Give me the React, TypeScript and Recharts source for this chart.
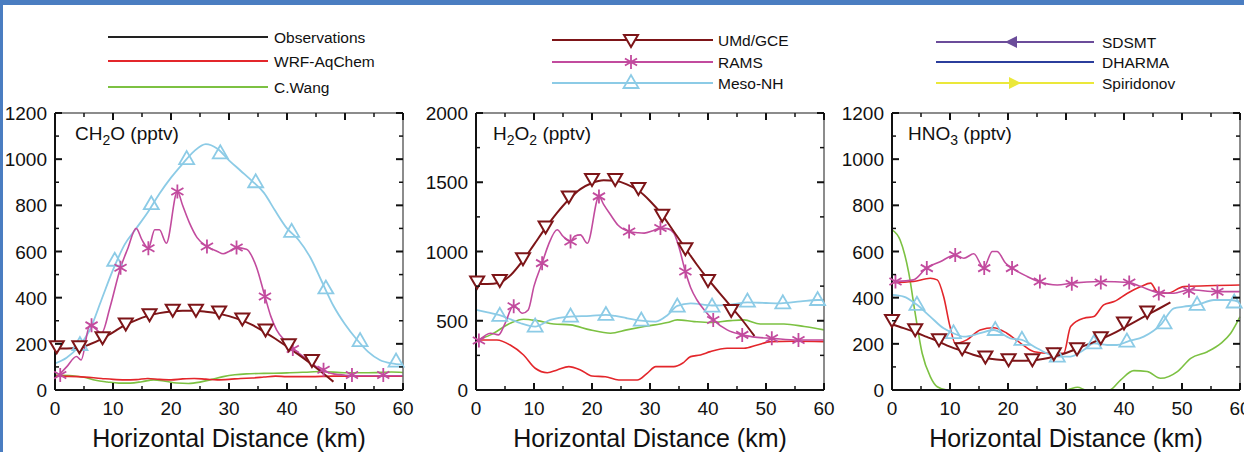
import React from 'react';
import { ComposedChart, Line, XAxis, YAxis } from 'recharts';

// ---- data: [km, pptv] ----
const xTicks = [0, 5, 10, 15, 20, 25, 30, 35, 40, 45, 50, 55, 60];
const yTicks1200 = [0, 100, 200, 300, 400, 500, 600, 700, 800, 900, 1000, 1100, 1200];
const yTicks2000 = [0, 250, 500, 750, 1000, 1250, 1500, 1750, 2000];

// CH2O
const ch2oWrf = [[0, 60], [4, 58], [8, 50], [10, 46], [12, 44], [14, 45], [16, 50], [18, 46], [20, 44], [22, 48], [24, 50], [26, 47], [28, 44], [30, 46], [32, 50], [34, 52], [36, 56], [38, 60], [40, 58], [44, 58], [48, 60], [52, 60], [56, 60], [60, 60]];
const ch2oWang = [[0, 65], [3, 62], [5, 55], [7, 42], [9, 35], [11, 30], [13, 30], [15, 36], [17, 44], [19, 38], [21, 30], [23, 28], [25, 34], [27, 46], [29, 58], [31, 66], [33, 70], [36, 72], [40, 74], [44, 78], [46, 80], [50, 75], [54, 75], [58, 78], [60, 76]];
const ch2oMeso = [[0, 115], [2, 140], [4, 185], [6, 260], [8, 390], [10, 520], [12, 630], [14, 700], [16, 770], [18, 850], [20, 920], [22, 980], [24, 1035], [26, 1065], [28, 1045], [30, 995], [32, 950], [34, 905], [36, 855], [38, 775], [40, 700], [42, 650], [44, 575], [46, 470], [48, 365], [50, 285], [52, 220], [54, 165], [56, 130], [58, 115], [60, 110]];
const ch2oMesoPts = [[4.3, 195], [10.3, 560], [16.6, 805], [22.7, 1000], [28.5, 1025], [34.6, 900], [40.8, 685], [46.7, 440], [52.6, 212], [58.8, 123]];
const ch2oRams = [[0.5, 60], [2, 100], [3.7, 145], [4.5, 130], [6, 280], [7, 265], [8, 245], [9.5, 360], [11.3, 530], [12.5, 610], [14, 700], [15, 650], [16.1, 614], [17.2, 694], [18, 694], [19.2, 636], [21.1, 860], [22, 800], [23.2, 723], [24.5, 660], [26.2, 622], [28, 600], [29, 590], [30, 600], [31.3, 617], [33, 610], [34.7, 535], [36.2, 405], [37.2, 320], [38.2, 260], [40, 205], [41, 180], [43.3, 137], [46, 85], [48, 70], [50, 64], [52, 62], [56, 62], [60, 62]];
const ch2oRamsPts = [[0.9, 65], [6.3, 280], [11.3, 530], [16.1, 614], [21.1, 860], [26.2, 622], [31.3, 617], [36.2, 405], [41, 178], [46.3, 88], [51.2, 65], [56.6, 65]];
const ch2oUmd = [[0, 180], [2, 180], [4, 182], [6, 198], [8, 220], [10, 250], [12, 280], [14, 303], [16, 321], [18, 333], [20, 340], [22, 343], [24, 343], [26, 339], [28, 332], [30, 320], [32, 304], [34, 282], [36, 253], [38, 222], [40, 188], [42, 153], [44, 116], [46, 77], [48, 36]];
const ch2oUmdPts = [[0.3, 190], [4.2, 190], [8.2, 228], [12.2, 288], [16.3, 328], [20.3, 348], [24.3, 348], [28.3, 340], [32.3, 310], [36.3, 262], [40.3, 198], [44.3, 130]];

// H2O2
const h2o2Wrf = [[0, 361], [3.6, 361], [5.9, 325], [8.2, 253], [10.2, 157], [12.3, 125], [14, 145], [16, 169], [18, 145], [20, 101], [22.3, 96], [24.6, 72], [27.8, 72], [29.5, 120], [31, 169], [34.1, 169], [35.6, 193], [37, 241], [38.7, 253], [40.4, 277], [43.3, 301], [46.2, 301], [48.5, 325], [50.8, 349], [54.8, 352], [60, 349]];
const h2o2Wang = [[0, 361], [2.5, 398], [5.9, 482], [8.2, 511], [10.5, 501], [13.4, 477], [16.3, 470], [19.7, 434], [23.2, 410], [26, 434], [29, 458], [33, 487], [34.7, 506], [37.6, 494], [40.4, 487], [43.9, 501], [46.2, 506], [49, 477], [53.1, 477], [56.6, 458], [60, 434]];
const h2o2Meso = [[0, 578], [2, 560], [3.9, 542], [6, 510], [7.7, 482], [10.2, 458], [12.8, 506], [16.3, 530], [19.7, 535], [22.4, 542], [24, 535], [26, 518], [28.5, 501], [31, 494], [33, 540], [34.7, 607], [37, 626], [40.7, 610], [43.6, 614], [46.8, 632], [50, 628], [52.5, 626], [56, 640], [58.9, 650], [60, 650]];
const h2o2MesoPts = [[4.1, 535], [10.2, 458], [16.3, 530], [22.4, 542], [28.5, 501], [34.7, 602], [40.7, 602], [46.8, 638], [52.9, 626], [58.9, 650]];
const h2o2Rams = [[0.5, 357], [2.5, 410], [3.9, 398], [5, 480], [6.5, 610], [8, 554], [9, 578], [10, 750], [11.4, 916], [12.5, 1050], [14, 1157], [15, 1110], [16.3, 1072], [17, 1110], [18, 1120], [19.2, 1060], [21.2, 1398], [22, 1340], [23.2, 1265], [24.5, 1190], [26.4, 1145], [28, 1135], [29, 1133], [30.5, 1150], [31.8, 1169], [33, 1165], [34.1, 1133], [35, 1030], [36.1, 855], [37, 740], [38.1, 650], [39.5, 570], [40.9, 506], [43.3, 434], [45.9, 398], [48.5, 380], [51, 373], [55.4, 361], [60, 361]];
const h2o2RamsPts = [[0.5, 357], [6.5, 605], [11.4, 916], [16.3, 1072], [21.2, 1398], [26.4, 1145], [31.8, 1169], [36.1, 855], [40.9, 506], [45.9, 398], [51, 373], [55.6, 361]];
const h2o2Umd = [[0, 765], [2, 765], [4, 775], [6, 830], [8, 930], [10, 1050], [12, 1170], [14, 1280], [16, 1375], [18, 1450], [20, 1495], [22, 1515], [24, 1510], [26, 1485], [28, 1440], [30, 1365], [32, 1270], [34, 1150], [36, 1030], [38, 910], [40, 800], [42, 700], [44, 600], [46, 500], [48, 390]];
const h2o2UmdPts = [[0.2, 783], [4.1, 795], [8.1, 952], [12, 1180], [16, 1398], [20, 1523], [24, 1523], [28, 1458], [32.1, 1265], [36.1, 1024], [40, 795], [44, 578]];

// HNO3
const hno3Wrf = [[0, 465], [3.7, 470], [6.6, 484], [7.8, 477], [8.9, 405], [10, 275], [10.9, 202], [12.9, 217], [15.2, 260], [17.5, 270], [19.8, 246], [22.2, 202], [24.5, 166], [27.3, 159], [29.6, 159], [30.8, 275], [33.1, 311], [34.8, 318], [36.5, 369], [38.3, 383], [40.6, 419], [42.9, 448], [44.6, 463], [45.7, 426], [47.5, 419], [50.3, 448], [60, 455]];
const hno3Wang = [[0, 694], [1.4, 650], [2.9, 506], [4, 332], [5.2, 159], [6.6, 58], [7.8, 14], [9.5, 0], [20, 0], [30, 0], [32, 12], [33.5, 0], [37.5, 0], [39.4, 43], [41.7, 84], [44, 80], [46.3, 51], [49.2, 80], [51.5, 137], [54.4, 166], [56.7, 202], [58.4, 246], [60, 318]];
const hno3Meso = [[0, 412], [2, 405], [4.3, 369], [6.6, 318], [8.9, 267], [10.6, 246], [12.4, 231], [15.2, 246], [17.5, 260], [20.4, 224], [22.4, 217], [25, 181], [28.5, 145], [30.8, 145], [33.1, 174], [34.8, 202], [37.1, 195], [38.8, 195], [40.6, 210], [43.4, 231], [46.3, 282], [48.6, 354], [50.3, 361], [52.6, 369], [55.5, 390], [58.4, 390], [60, 380]];
const hno3MesoPts = [[4.3, 369], [10.6, 246], [17.8, 260], [22.4, 217], [28.5, 145], [34.8, 202], [40.5, 210], [46.9, 289], [52.6, 369], [59, 379]];
const hno3Rams = [[0.6, 470], [3.7, 477], [6, 530], [8.3, 556], [10.9, 585], [12.4, 571], [14.1, 590], [15.8, 530], [17.3, 600], [18.1, 600], [19.6, 549], [20.7, 528], [23.3, 492], [25.3, 470], [28.5, 455], [31, 463], [36, 470], [40.9, 466], [42.9, 448], [46, 422], [48.6, 419], [51.2, 434], [56.1, 426], [60, 426]];
const hno3RamsPts = [[0.6, 470], [6, 528], [10.9, 585], [15.9, 528], [20.7, 528], [25.5, 470], [31, 460], [36, 466], [40.9, 466], [46, 418], [51.2, 430], [56.1, 426]];
const hno3Umd = [[0, 285], [2, 268], [4, 250], [6, 230], [8, 210], [10, 188], [12, 170], [14, 153], [16, 140], [18, 132], [20, 128], [22, 127], [24, 128], [26, 134], [28, 145], [30, 160], [32, 180], [34, 200], [36, 220], [38, 243], [40, 270], [42, 297], [44, 325], [46, 352], [48, 380]];
const hno3UmdPts = [[0, 303], [4, 263], [8.1, 220], [12.1, 181], [16.1, 145], [20.1, 133], [24.2, 133], [27.9, 159], [31.9, 181], [36, 228], [40, 292], [44, 340]];

const C = {
  obs: '#222222',
  wrf: '#e3262b',
  wang: '#7cc142',
  umd: '#7d1518',
  rams: '#c24b9e',
  meso: '#8ccbe6',
  sdsmt: '#6b4c9a',
  dharma: '#2b3d9c',
  spir: '#ebe83a',
};

const legendCol1 = [
  { name: 'Observations', color: C.obs, y: 37 },
  { name: 'WRF-AqChem', color: C.wrf, y: 61 },
  { name: 'C.Wang', color: C.wang, y: 87 },
];
const legendCol2 = [
  { name: 'UMd/GCE', color: C.umd, y: 40, mark: 'down' },
  { name: 'RAMS', color: C.rams, y: 62, mark: 'star' },
  { name: 'Meso-NH', color: C.meso, y: 83, mark: 'up' },
];
const legendCol3 = [
  { name: 'SDSMT', color: C.sdsmt, y: 42, mark: 'left' },
  { name: 'DHARMA', color: C.dharma, y: 62, mark: '' },
  { name: 'Spiridonov', color: C.spir, y: 83, mark: 'right' },
];

const FONT = '"Liberation Sans", Arial, Helvetica, sans-serif';
const pts = (a: number[][]) => a.map(([x, y]) => ({ x, y }));

// ---- marker shapes ----
function Marker({ kind, cx, cy, color }: any) {
  if (cx == null || cy == null) return null;
  if (kind === 'down')
    return <polygon points={`${cx - 7},${cy - 5} ${cx + 7},${cy - 5} ${cx},${cy + 7}`} fill="#fff" stroke={color} strokeWidth={2} />;
  if (kind === 'up')
    return <polygon points={`${cx - 7.5},${cy + 5} ${cx + 7.5},${cy + 5} ${cx},${cy - 8}`} fill="none" stroke={color} strokeWidth={1.8} />;
  if (kind === 'star') {
    const r = 7;
    const d = [90, 30, 150]
      .map((a) => {
        const dx = r * Math.cos((a * Math.PI) / 180);
        const dy = r * Math.sin((a * Math.PI) / 180);
        return `M${cx - dx},${cy - dy}L${cx + dx},${cy + dy}`;
      })
      .join('');
    return <path d={d} stroke={color} strokeWidth={1.8} fill="none" />;
  }
  if (kind === 'left')
    return <polygon points={`${cx - 8},${cy} ${cx + 4},${cy - 6} ${cx + 4},${cy + 6}`} fill={color} />;
  if (kind === 'right')
    return <polygon points={`${cx + 8},${cy} ${cx - 4},${cy - 6} ${cx - 4},${cy + 6}`} fill={color} />;
  return null;
}

// ---- axis ticks (drawn inward, majors labelled) ----
const tickColor = '#111';
function bottomTick(step: number) {
  return (p: any) => {
    const v = p.payload.value;
    const major = v % step === 0;
    return (
      <g key={`b${v}`}>
        <line x1={p.x} x2={p.x} y1={p.y} y2={p.y - (major ? 7 : 4)} stroke={tickColor} strokeWidth={major ? 2 : 1.5} />
        {major && (
          <text x={p.x} y={p.y + 25} textAnchor="middle" fontSize={19} fontFamily={FONT} fill="#111">{v}</text>
        )}
      </g>
    );
  };
}
function topTick(step: number) {
  return (p: any) => {
    const v = p.payload.value;
    const major = v % step === 0;
    return <line key={`t${v}`} x1={p.x} x2={p.x} y1={p.y} y2={p.y + (major ? 7 : 4)} stroke={tickColor} strokeWidth={major ? 2 : 1.5} />;
  };
}
function leftTick(step: number) {
  return (p: any) => {
    const v = p.payload.value;
    const major = v % step === 0;
    return (
      <g key={`l${v}`}>
        <line x1={p.x} x2={p.x + (major ? 7 : 4)} y1={p.y} y2={p.y} stroke={tickColor} strokeWidth={major ? 2 : 1.5} />
        {major && (
          <text x={p.x - 8} y={p.y + 7} textAnchor="end" fontSize={19} fontFamily={FONT} fill="#111">{v}</text>
        )}
      </g>
    );
  };
}
function rightTick(step: number) {
  return (p: any) => {
    const v = p.payload.value;
    const major = v % step === 0;
    return <line key={`r${v}`} x1={p.x} x2={p.x - (major ? 7 : 4)} y1={p.y} y2={p.y} stroke={tickColor} strokeWidth={major ? 2 : 1.5} />;
  };
}

type Panel = {
  left: number;
  yMax: number;
  yTicks: number[];
  yStep: number;
  wrf: number[][];
  wang: number[][];
  meso: number[][];
  mesoPts: number[][];
  rams: number[][];
  ramsPts: number[][];
  umd: number[][];
  umdPts: number[][];
};

const panels: Panel[] = [
  { left: 0, yMax: 1200, yTicks: yTicks1200, yStep: 200, wrf: ch2oWrf, wang: ch2oWang, meso: ch2oMeso, mesoPts: ch2oMesoPts, rams: ch2oRams, ramsPts: ch2oRamsPts, umd: ch2oUmd, umdPts: ch2oUmdPts },
  { left: 421, yMax: 2000, yTicks: yTicks2000, yStep: 500, wrf: h2o2Wrf, wang: h2o2Wang, meso: h2o2Meso, mesoPts: h2o2MesoPts, rams: h2o2Rams, ramsPts: h2o2RamsPts, umd: h2o2Umd, umdPts: h2o2UmdPts },
  { left: 837, yMax: 1200, yTicks: yTicks1200, yStep: 200, wrf: hno3Wrf, wang: hno3Wang, meso: hno3Meso, mesoPts: hno3MesoPts, rams: hno3Rams, ramsPts: hno3RamsPts, umd: hno3Umd, umdPts: hno3UmdPts },
];

function markerLine(data: number[][], kind: string, color: string) {
  return (
    <Line
      data={pts(data)}
      dataKey="y"
      stroke="none"
      isAnimationActive={false}
      activeDot={false}
      legendType="none"
      dot={(p: any) => <Marker key={`${kind}${p.index}`} kind={kind} cx={p.cx} cy={p.cy} color={color} />}
    />
  );
}

function PanelChart({ p }: { p: Panel }) {
  return (
    <div style={{ position: 'absolute', left: p.left, top: 0 }}>
      <ComposedChart width={415} height={452} margin={{ top: 112, right: 11, bottom: 0, left: 0 }}>
        <XAxis
          type="number"
          dataKey="x"
          domain={[0, 60]}
          ticks={xTicks}
          interval={0}
          height={62}
          tickSize={0}
          tickMargin={0}
          tickLine={false}
          axisLine={{ stroke: '#111', strokeWidth: 2 }}
          tick={bottomTick(10)}
          label={{ value: 'Horizontal Distance (km)', position: 'insideBottom', offset: 5, fontSize: 25, fill: '#111', fontFamily: FONT }}
        />
        <XAxis
          xAxisId="top"
          orientation="top"
          type="number"
          dataKey="x"
          domain={[0, 60]}
          ticks={xTicks}
          interval={0}
          height={1}
          tickSize={0}
          tickMargin={0}
          tickLine={false}
          axisLine={{ stroke: '#666', strokeWidth: 1.5 }}
          tick={topTick(10)}
        />
        <YAxis
          type="number"
          dataKey="y"
          domain={[0, p.yMax]}
          ticks={p.yTicks}
          interval={0}
          width={55}
          tickSize={0}
          tickMargin={0}
          tickLine={false}
          axisLine={{ stroke: '#111', strokeWidth: 2 }}
          tick={leftTick(p.yStep)}
        />
        <YAxis
          yAxisId="right"
          orientation="right"
          type="number"
          dataKey="y"
          domain={[0, p.yMax]}
          ticks={p.yTicks}
          interval={0}
          width={1}
          tickSize={0}
          tickMargin={0}
          tickLine={false}
          axisLine={{ stroke: '#666', strokeWidth: 1.5 }}
          tick={rightTick(p.yStep)}
        />
        {/* C.Wang is tied to the top/right frame axes (same domains) so they get drawn */}
        <Line xAxisId="top" yAxisId="right" data={pts(p.wang)} dataKey="y" type="monotone" stroke={C.wang} strokeWidth={1.6} dot={false} isAnimationActive={false} />
        <Line data={pts(p.wrf)} dataKey="y" type="monotone" stroke={C.wrf} strokeWidth={1.6} dot={false} isAnimationActive={false} />
        <Line data={pts(p.meso)} dataKey="y" type="monotone" stroke={C.meso} strokeWidth={1.8} dot={false} isAnimationActive={false} />
        {markerLine(p.mesoPts, 'up', C.meso)}
        <Line data={pts(p.rams)} dataKey="y" type="monotone" stroke={C.rams} strokeWidth={1.6} dot={false} isAnimationActive={false} />
        {markerLine(p.ramsPts, 'star', C.rams)}
        <Line data={pts(p.umd)} dataKey="y" type="monotone" stroke={C.umd} strokeWidth={2} dot={false} isAnimationActive={false} />
        {markerLine(p.umdPts, 'down', C.umd)}
      </ComposedChart>
    </div>
  );
}

function LegendCol({ items, x1, x2, tx, mx }: any) {
  return (
    <g>
      {items.map((it: any) => (
        <g key={it.name}>
          <line x1={x1} x2={x2} y1={it.y} y2={it.y} stroke={it.color} strokeWidth={2} />
          {it.mark && <Marker kind={it.mark} cx={mx} cy={it.y} color={it.color} />}
          <text x={tx} y={it.y + 5.5} fontSize={15.5} fontFamily={FONT} fill="#111">{it.name}</text>
        </g>
      ))}
    </g>
  );
}

export default function App() {
  return (
    <div style={{ position: 'relative', width: 1244, height: 452, background: '#fff', overflow: 'hidden', fontFamily: FONT }}>
      <style>{'body{margin:0;overflow:hidden}'}</style>
      {panels.map((p, i) => (
        <PanelChart key={i} p={p} />
      ))}
      <svg width={1244} height={452} style={{ position: 'absolute', left: 0, top: 0, pointerEvents: 'none' }}>
        <LegendCol items={legendCol1} x1={108} x2={268} tx={274} mx={0} />
        <LegendCol items={legendCol2} x1={552} x2={713} tx={718} mx={631} />
        <LegendCol items={legendCol3} x1={936} x2={1094} tx={1102} mx={1013} />
        <text x={75} y={140} fontSize={19} fontFamily={FONT} fill="#111">
          CH<tspan fontSize={14} dy={5}>2</tspan><tspan dy={-5}>O (pptv)</tspan>
        </text>
        <text x={493} y={140} fontSize={19} fontFamily={FONT} fill="#111">
          H<tspan fontSize={14} dy={5}>2</tspan><tspan dy={-5}>O</tspan><tspan fontSize={14} dy={5}>2</tspan><tspan dy={-5}> (pptv)</tspan>
        </text>
        <text x={908} y={140} fontSize={19} fontFamily={FONT} fill="#111">
          HNO<tspan fontSize={14} dy={5}>3</tspan><tspan dy={-5}> (pptv)</tspan>
        </text>
      </svg>
      <div style={{ position: 'absolute', left: 0, top: 0, width: 1244, height: 5, background: '#4a7dc1' }} />
      <div style={{ position: 'absolute', left: 0, top: 0, width: 3, height: 452, background: '#4a7dc1' }} />
    </div>
  );
}
